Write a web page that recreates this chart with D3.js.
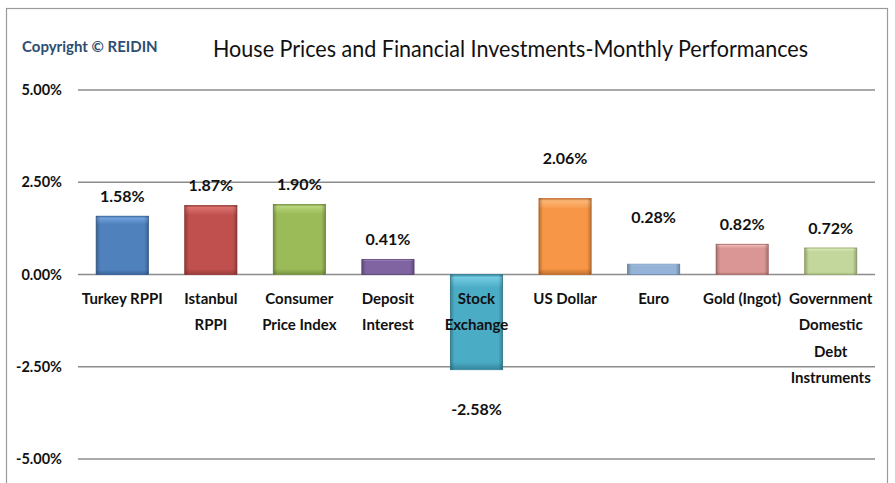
<!DOCTYPE html>
<html>
<head>
<meta charset="utf-8">
<script src="https://cdn.jsdelivr.net/npm/d3@7"></script>
<style>
  body { margin: 0; background: #fff; }
  text { font-family: Lato, "Open Sans", sans-serif; }
</style>
</head>
<body>
<script>
// data
const categories = ['Turkey RPPI', 'Istanbul RPPI', 'Consumer Price Index', 'Deposit Interest',
  'Stock Exchange', 'US Dollar', 'Euro', 'Gold (Ingot)', 'Government Domestic Debt Instruments'];
const labelLines = [['Turkey RPPI'], ['Istanbul', 'RPPI'], ['Consumer', 'Price Index'], ['Deposit', 'Interest'],
  ['Stock', 'Exchange'], ['US Dollar'], ['Euro'], ['Gold (Ingot)'], ['Government', 'Domestic', 'Debt', 'Instruments']];
const values = [1.58, 1.87, 1.90, 0.41, -2.58, 2.06, 0.28, 0.82, 0.72];
const yTicks = [-5, -2.5, 0, 2.5, 5];

// office-ish palette: [top, base, edge]
const palette = [
  ['#74a3dd', '#4f81bd', '#3a659c'],
  ['#db726f', '#c0504d', '#993c3a'],
  ['#b7d47a', '#9bbb59', '#789442'],
  ['#a088c2', '#8064a2', '#5f4a7c'],
  ['#74cbe2', '#4bacc6', '#34869b'],
  ['#fcb676', '#f79646', '#c27130'],
  ['#bcd2ee', '#95b3d7', '#7090b6'],
  ['#f0b8b6', '#d99694', '#b07270'],
  ['#dcebba', '#c3d69b', '#9fb177']
];

// manual pushes of value labels (px), as they sit in the original
const labelNudge = {'US Dollar': 20, 'Euro': 27, 'Stock Exchange': 20};

const W = 895, H = 483;
const margin = {top: 90, bottom: 24, left: 78, right: 20};

// percent with a plain hyphen for negatives
const pct = v => d3.format('.2f')(v).replace('\u2212', '-') + '%';

const svg = d3.select('body').append('svg')
  .attr('width', W)
  .attr('height', H);

// frame
svg.append('rect')
  .attr('x', 6.5).attr('y', 8.5)
  .attr('width', 881).attr('height', 490)
  .attr('fill', 'none').attr('stroke', '#9a9a9a').attr('stroke-width', 1.2);

const defs = svg.append('defs');
palette.forEach((c, i) => {
  const gr = defs.append('linearGradient').attr('id', 'g' + i)
    .attr('x1', 0).attr('y1', 0).attr('x2', 0).attr('y2', 1);
  gr.append('stop').attr('offset', '0%').attr('stop-color', c[2]);
  gr.append('stop').attr('offset', '3%').attr('stop-color', c[0]);
  gr.append('stop').attr('offset', '14%').attr('stop-color', c[1]);
  gr.append('stop').attr('offset', '92%').attr('stop-color', c[1]);
  gr.append('stop').attr('offset', '100%').attr('stop-color', c[2]);
});
const side = defs.append('linearGradient').attr('id', 'side')
  .attr('x1', 0).attr('y1', 0).attr('x2', 1).attr('y2', 0);
side.append('stop').attr('offset', '0%').attr('stop-color', '#000').attr('stop-opacity', 0.25);
side.append('stop').attr('offset', '8%').attr('stop-color', '#000').attr('stop-opacity', 0);
side.append('stop').attr('offset', '92%').attr('stop-color', '#000').attr('stop-opacity', 0);
side.append('stop').attr('offset', '100%').attr('stop-color', '#000').attr('stop-opacity', 0.25);

// scales
const xscale = d3.scaleBand().domain(categories)
  .range([margin.left, 875]).paddingInner(0.41).paddingOuter(0.205);
const yscale = d3.scaleLinear().domain([-5, 5]).range([H - margin.bottom, margin.top]);

// title + copyright
svg.append('text').attr('x', 22).attr('y', 52)
  .attr('font-size', 15).attr('font-weight', 700).attr('fill', '#2d4d72')
  .text('Copyright © REIDIN');
svg.append('text').attr('x', 213).attr('y', 57)
  .attr('font-size', 22.5).attr('fill', '#111')
  .attr('textLength', 595).attr('lengthAdjust', 'spacingAndGlyphs')
  .text('House Prices and Financial Investments-Monthly Performances');

// gridlines + tick labels
const grid = svg.append('g');
grid.selectAll('line').data(yTicks).join('line')
  .attr('x1', margin.left).attr('x2', 875)
  .attr('y1', d => yscale(d)).attr('y2', d => yscale(d))
  .attr('stroke', '#8c8c8c').attr('stroke-width', 1.3);
grid.selectAll('text').data(yTicks).join('text')
  .attr('x', 62).attr('y', d => yscale(d)).attr('dy', '0.35em')
  .attr('text-anchor', 'end').attr('font-size', 14.5).attr('font-weight', 700).attr('fill', '#111')
  .text(d => pct(d));

const data = categories.map((c, i) => ({name: c, value: values[i], lines: labelLines[i], i}));

// bars
const bars = svg.append('g').selectAll('g').data(data).join('g');
bars.append('rect')
  .attr('x', d => xscale(d.name)).attr('width', xscale.bandwidth())
  .attr('y', d => yscale(Math.max(0, d.value)))
  .attr('height', d => Math.abs(yscale(d.value) - yscale(0)))
  .attr('fill', d => `url(#g${d.i})`)
  .attr('stroke', d => palette[d.i][2]).attr('stroke-width', 0.8);
bars.append('rect')
  .attr('x', d => xscale(d.name)).attr('width', xscale.bandwidth())
  .attr('y', d => yscale(Math.max(0, d.value)))
  .attr('height', d => Math.abs(yscale(d.value) - yscale(0)))
  .attr('fill', 'url(#side)');

// value labels
svg.append('g').selectAll('text').data(data).join('text')
  .attr('x', d => xscale(d.name) + xscale.bandwidth() / 2)
  .attr('y', d => {
    const nudge = labelNudge[d.name] || 0;
    return d.value >= 0 ? yscale(d.value) - 20 - nudge : yscale(d.value) + 20 + nudge;
  })
  .attr('dy', '0.35em').attr('text-anchor', 'middle')
  .attr('font-size', 16).attr('font-weight', 700).attr('fill', '#111')
  .text(d => pct(d.value));

// category labels (low position, below the zero line)
const cat = svg.append('g').selectAll('text').data(data).join('text')
  .attr('x', d => xscale(d.name) + xscale.bandwidth() / 2)
  .attr('y', yscale(0) + 29)
  .attr('text-anchor', 'middle')
  .attr('font-size', 15).attr('font-weight', 700).attr('fill', '#111');
cat.selectAll('tspan').data(d => d.lines).join('tspan')
  .attr('x', function() { return d3.select(this.parentNode).attr('x'); })
  .attr('dy', (d, i) => i === 0 ? 0 : 26.5)
  .text(d => d);
</script>
</body>
</html>
